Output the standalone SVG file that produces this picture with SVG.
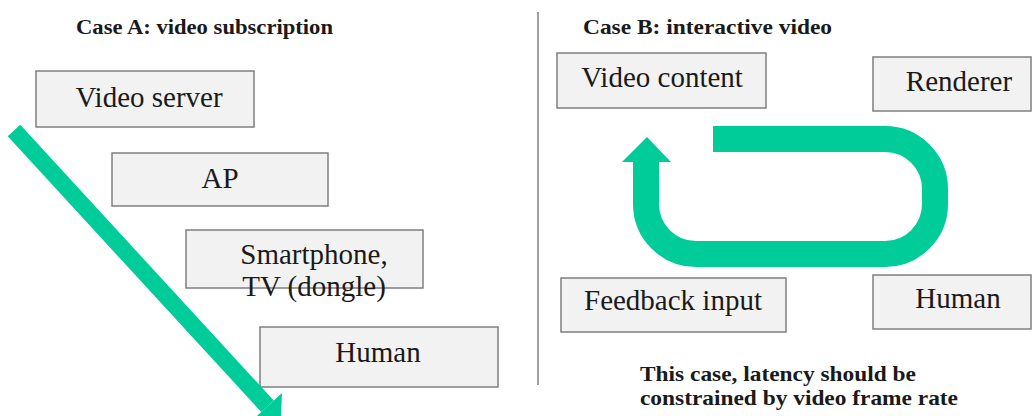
<svg xmlns="http://www.w3.org/2000/svg" width="1034" height="416" viewBox="0 0 1034 416">
<style>
.box{fill:#F2F2F2;stroke:#7F7F7F;stroke-width:1.5}
.t{font-size:29px;fill:#1a1a1a;text-anchor:middle}
.h{font-size:22px;font-weight:bold;fill:#1a1a1a}
.g{fill:none;stroke:#00CC99}
</style>
<rect width="1034" height="416" fill="#ffffff"/>
<line x1="538" y1="12" x2="538" y2="385" stroke="#808080" stroke-width="1.5"/>
<g font-family="'Liberation Serif', 'Times New Roman', serif">
<text class="h" x="76" y="34" textLength="257" lengthAdjust="spacingAndGlyphs">Case A: video subscription</text>
<text class="h" x="583" y="34" textLength="249" lengthAdjust="spacingAndGlyphs">Case B: interactive video</text>
<g id="video-server"><rect class="box" x="36" y="71" width="218" height="56"/><text class="t" x="149" y="107">Video server</text></g>
<g id="ap"><rect class="box" x="112" y="153" width="216" height="53"/><text class="t" x="220" y="188">AP</text></g>
<g id="smartphone"><rect class="box" x="186" y="230" width="237" height="58"/><text class="t" x="314" y="264">Smartphone,</text><text class="t" x="314" y="296">TV (dongle)</text></g>
<g id="human-a"><rect class="box" x="260" y="327" width="238" height="60"/><text class="t" x="378" y="362">Human</text></g>
<g id="video-content"><rect class="box" x="557" y="53" width="209" height="55"/><text class="t" x="662" y="87">Video content</text></g>
<g id="renderer"><rect class="box" x="873" y="57" width="158" height="54"/><text class="t" x="959" y="91">Renderer</text></g>
<g id="feedback-input"><rect class="box" x="561" y="278" width="225" height="54"/><text class="t" x="673" y="310">Feedback input</text></g>
<g id="human-b"><rect class="box" x="873" y="275" width="158" height="54"/><text class="t" x="958" y="308">Human</text></g>
<text class="h" x="640" y="381" font-size="23" textLength="276" lengthAdjust="spacingAndGlyphs">This case, latency should be</text>
<text class="h" x="640" y="405" font-size="23" textLength="318" lengthAdjust="spacingAndGlyphs">constrained by video frame rate</text>
</g>
<g id="connectors">
<line class="g" x1="14" y1="130.5" x2="267.5" y2="406.3" stroke-width="17"/>
<polygon points="282,393 280.8,421 253,419.6" fill="#00CC99"/>
<path class="g" stroke-width="26" d="M713,139 H885 A50,50 0 0 1 935,189 V204 A50,50 0 0 1 885,254 H696 A50,50 0 0 1 646,204 V161"/>
<polygon points="622,162 647,137 671,162" fill="#00CC99"/>
</g>
</svg>
